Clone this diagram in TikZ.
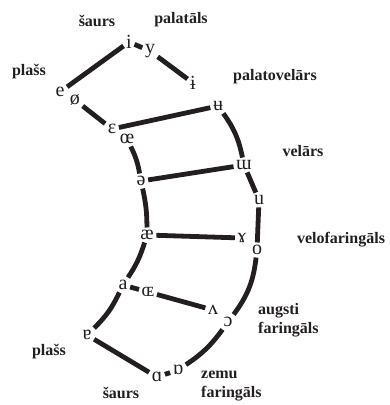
\documentclass[tikz,border=0pt]{standalone}
\usepackage{fontspec}
\setmainfont{Liberation Serif}
\definecolor{lc}{HTML}{231F20}
\begin{document}
\begin{tikzpicture}[x=1pt,y=-1pt,
  ph/.style={font=\fontsize{20}{20}\selectfont, inner sep=2.5pt, text=lc},
  lab/.style={font=\bfseries\fontsize{16}{19}\selectfont, align=left, text=lc, inner sep=0pt},
  ln/.style={line width=4.8pt, draw=lc}]
\useasboundingbox (0,0) rectangle (389,405);
% phonetic symbols
\node[ph] (i) at (129,42) {i};
\node[ph] (y) at (150,51) {y};
\node[ph] (ib) at (193,83) {ɨ};
\node[ph] (ub) at (218,106) {ʉ};
\node[ph] (e) at (60,92) {e};
\node[ph] (os) at (75,100) {ø};
\node[ph] (eps) at (112,129) {ɛ};
\node[ph] (oe) at (127,139) {œ};
\node[ph] (sch) at (141,181) {ə};
\node[ph] (uu) at (244,165) {ɯ};
\node[ph] (u) at (259,200) {u};
\node[ph] (ae) at (147,235) {æ};
\node[ph] (gam) at (242,238) {ɤ};
\node[ph] (o) at (257,250) {o};
\node[ph] (a) at (123,285) {a};
\node[ph] (OE) at (148,292) {ɶ};
\node[ph] (wed) at (213,310) {ʌ};
\node[ph] (oo) at (228,322) {ɔ};
\node[ph] (ta) at (87,335) {ɐ};
\node[ph] (as) at (157,377) {ɑ};
\node[ph] (ao) at (178,370) {ɒ};
% labels
\node[lab] (l1) at (97,21) {šaurs};
\node[lab] (l2) at (181,20) {palatāls};
\node[lab] (l3) at (29,72) {plašs};
\node[lab] (l4) at (275,77) {palatovelārs};
\node[lab] (l5) at (303,151) {velārs};
\node[lab] (l6) at (341,240) {velofaringāls};
\node[lab,anchor=west] (l7) at (258,320) {augsti\\faringāls};
\node[lab,anchor=west] (l8) at (201,386) {zemu\\faringāls};
\node[lab] (l9) at (49,352) {plašs};
\node[lab] (l10) at (121,393) {šaurs};
% connectors
\draw[ln] (e) -- (i);
\draw[ln] (i) -- (y);
\draw[ln] (y) -- (ib);
\draw[ln] (os) -- (eps);
\draw[ln] (eps) -- (ub);
\draw[ln] (ub) to[bend left=12] (uu);
\draw[ln] (uu) -- (u);
\draw[ln] (u) -- (o);
\draw[ln] (o) to[bend left=15] (oo);
\draw[ln] (oo) to[bend left=10] (ao);
\draw[ln] (oe) to[bend left=8] (sch);
\draw[ln] (sch) to[bend left=6] (ae);
\draw[ln] (ae) to[bend left=8] (a);
\draw[ln] (a) to[bend left=10] (ta);
\draw[ln] (a) -- (OE);
\draw[ln] (OE) -- (wed);
\draw[ln] (sch) -- (uu);
\draw[ln] (ae) -- (gam);
\draw[ln] (ta) -- (as);
\draw[ln] (as) -- (ao);
\end{tikzpicture}
\end{document}
